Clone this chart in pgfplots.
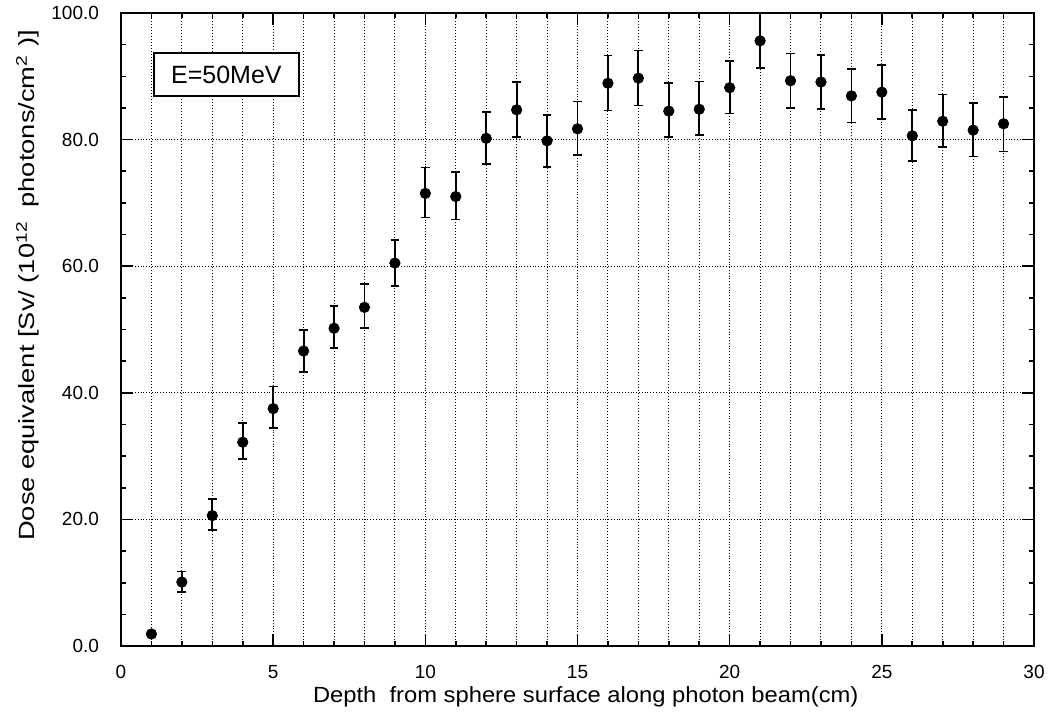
\documentclass[border=0pt]{standalone}
\usepackage{fontspec}
\setmainfont{Liberation Sans}
\newfontfamily\ylfont[FakeStretch=1.24]{Liberation Sans}
\newfontfamily\xlfont[FakeStretch=1.08]{Liberation Sans}
\usepackage{pgfplots}
\pgfplotsset{compat=1.18}
\usepackage{pgfplotstable}
\pgfplotstableread{
x y ep em
1 1.9 0.4 0.4
2 10.1 1.7 1.6
3 20.6 2.6 2.3
4 32.2 3.0 2.7
5 37.5 3.5 3.1
6 46.6 3.3 3.3
7 50.2 3.5 3.1
8 53.5 3.7 3.3
9 60.5 3.6 3.6
10 71.5 4.1 3.8
11 71.0 3.9 3.6
12 80.2 4.2 4.1
13 84.7 4.4 4.3
14 79.8 4.1 4.1
15 81.7 4.3 4.1
16 88.9 4.4 4.3
17 89.7 4.4 4.3
18 84.5 4.4 4.1
19 84.8 4.4 4.1
20 88.2 4.2 4.1
21 95.6 4.4 4.3
22 89.3 4.3 4.3
23 89.1 4.3 4.3
24 86.9 4.3 4.2
25 87.5 4.3 4.2
26 80.6 4.1 4.0
27 82.9 4.2 4.1
28 81.5 4.3 4.2
29 82.5 4.2 4.4
}\dosedata
\begin{document}
\begin{tikzpicture}
\begin{axis}[
  scale only axis,
  width=456.5pt, height=316.5pt,
  xmin=0, xmax=30, ymin=0, ymax=100,
  xtick={0,5,...,30},
  minor x tick num=4,
  ytick={0,20,...,100},
  minor y tick num=3,
  xmajorgrids=true, xminorgrids=true, ymajorgrids=true,
  grid style={black, densely dotted, line width=0.5pt},
  minor grid style={black, densely dotted, line width=0.5pt},
  axis line style={black, line width=1pt},
  tick align=inside,
  major tick length=6pt,
  minor tick length=2.5pt,
  tick style={black, line width=0.8pt},
  /pgf/number format/assume math mode=true,
  yticklabel style={/pgf/number format/fixed, /pgf/number format/fixed zerofill, /pgf/number format/precision=1, font=\fontsize{9.5}{11}\selectfont, xshift=-7.5pt},
  xticklabel style={font=\fontsize{9.5}{11}\selectfont, yshift=-6pt},
  xlabel={Depth\ \ from sphere surface along photon beam(cm)},
  ylabel={Dose equivalent [Sv/ (10\textsuperscript{12}\hspace{7pt}photons/cm\textsuperscript{2}\hspace{4pt})]},
  xlabel style={font=\xlfont\fontsize{11}{13}\selectfont, at={(axis description cs:0.509,-0.0806)}, anchor=center},
  ylabel style={font=\ylfont\fontsize{11}{13}\selectfont, at={(axis description cs:-0.102,0.155)}, anchor=west},
  clip=false,
]
\addplot[only marks, mark=*, mark size=2.6pt, black,
  error bars/.cd, y dir=both, y explicit,
  error bar style={line width=0.9pt, black},
  error mark options={rotate=90, mark size=2.2pt, line width=0.8pt}]
  table[x=x, y=y, y error plus=ep, y error minus=em] {\dosedata};
\node[draw, line width=0.9pt, anchor=north west, font=\fontsize{12.5}{14}\selectfont,
  minimum width=72.5pt, minimum height=21.5pt, fill=white] at (axis cs:1.05,93.8) {E=50MeV};
\end{axis}
\pgfresetboundingbox
\path[use as bounding box] ([shift={(-60.5pt,-36.5pt)}]current axis.south west) rectangle ([shift={(9pt,6.5pt)}]current axis.north east);
\end{tikzpicture}
\end{document}
